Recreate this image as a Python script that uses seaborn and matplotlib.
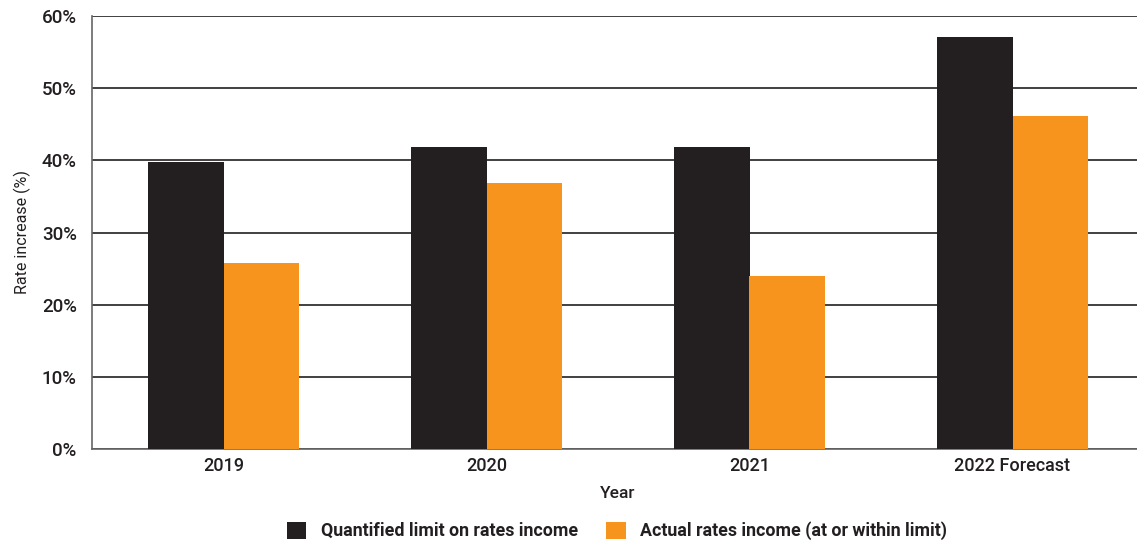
import matplotlib
matplotlib.use("Agg")
import matplotlib.pyplot as plt
from matplotlib.patches import Patch
from matplotlib.ticker import FuncFormatter, FixedLocator
import seaborn as sns
import pandas as pd

# Rate increases by year (percent)
years = ["2019", "2020", "2021", "2022 Forecast"]
quantified_limit = [39.7, 41.8, 41.8, 57.1]
actual_income = [25.8, 36.8, 24.0, 46.1]
series_names = ["Quantified limit on rates income", "Actual rates income (at or within limit)"]
colors = ["#231f20", "#f7941d"]

df = pd.DataFrame({
    "Year": years * 2,
    "Series": [series_names[0]] * len(years) + [series_names[1]] * len(years),
    "Value": quantified_limit + actual_income,
})

sns.set_theme(style="white")
plt.rcParams["font.family"] = ["Roboto", "DejaVu Sans"]

fig = plt.figure(figsize=(11.37, 5.43), dpi=100)
ax = fig.add_axes([92 / 1137, 1 - 449 / 543, (1144 - 92) / 1137, (449 - 16) / 543])

sns.barplot(data=df, x="Year", y="Value", hue="Series", palette=colors,
            width=0.575, saturation=1, ax=ax, legend=False, zorder=3,
            linewidth=0, edgecolor="none")

ax.set_xlim(-0.5, 3.5)
ax.set_ylim(0, 60)
ax.set_yticks(range(0, 61, 10))
ax.yaxis.set_major_formatter(FuncFormatter(lambda v, _: f"{int(v)}%"))
ax.grid(axis="y", color="#231f20", linewidth=1.2, zorder=0)
ax.set_axisbelow(True)

# Category boundaries carry the x ticks; labels sit at category centres
ax.xaxis.set_major_locator(FixedLocator([-0.5, 0.5, 1.5, 2.5]))
ax.xaxis.set_major_formatter(FuncFormatter(lambda v, _: ""))
ax.xaxis.set_minor_locator(FixedLocator([0, 1, 2, 3]))
ax.set_xticklabels(years, minor=True)
ax.tick_params(axis="x", which="major", direction="out", length=8, width=1.2, color="#666666")
ax.tick_params(axis="x", which="minor", length=0, labelsize=13, labelcolor="#231f20", pad=6)
ax.tick_params(axis="y", direction="out", length=8, width=1.2, color="#666666",
               labelsize=13.5, labelcolor="#231f20", pad=3)
for lbl in ax.get_xticklabels(minor=True) + ax.get_yticklabels():
    lbl.set_fontweight("medium")

for side in ["top", "right"]:
    ax.spines[side].set_visible(False)
for side in ["left", "bottom"]:
    ax.spines[side].set_color("#666666")
    ax.spines[side].set_linewidth(1.2)
ax.spines["left"].set_bounds(0, 60)

ax.set_xlabel("Year", fontsize=12.5, color="#231f20", labelpad=8, fontweight="medium")
ax.set_ylabel("Rate increase (%)", fontsize=11.5, color="#231f20", labelpad=8)

handles = [Patch(facecolor=c, edgecolor="none") for c in colors]
fig.legend(handles, series_names, loc="center", bbox_to_anchor=(617 / 1137, 1 - 531 / 543),
           ncol=2, frameon=False, prop={"weight": "bold", "size": 12.8},
           handlelength=1.1, handleheight=1.1, handletextpad=0.8, columnspacing=1.6,
           labelcolor="#231f20")

fig.savefig("out.png", dpi=100)
